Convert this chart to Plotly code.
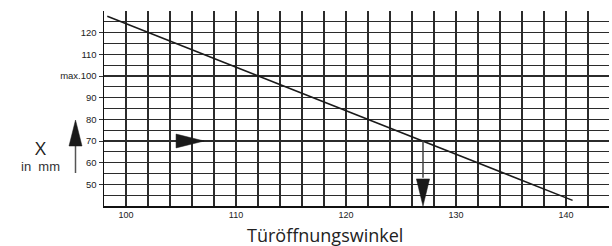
import plotly.graph_objects as go

# ---- data ----
angle = [98.3, 140.6]          # Türöffnungswinkel (°)
x_mm = [127.6, 42.6]           # X in mm
example_angle = 127
example_x = 70

x_tick_vals = [100, 110, 120, 130, 140]
x_tick_text = ["100", "110", "120", "130", "140"]
x_minor_vals = [98, 102, 104, 106, 108, 112, 114, 116, 118, 122, 124, 126, 128,
                132, 134, 136, 138, 142]
y_tick_vals = [50, 60, 70, 80, 90, 100, 110, 120]
y_tick_text = ["50", "60", "70", "80", "90", "max.100", "110", "120"]
y_minor_vals = [45, 55, 65, 75, 85, 95, 105, 115, 125]

W, H = 612, 246
L, R, T, B = 104, 3, 11, 40
PW, PH = W - L - R, H - T - B

def px(xp):
    return (xp - L) / PW

def py(yp):
    return (H - B - yp) / PH

GRID = "#2b2b2b"
INK = "#1a1a1a"

fig = go.Figure()
fig.add_trace(go.Scatter(x=angle, y=x_mm, mode="lines",
                         line=dict(color=INK, width=1.5), showlegend=False,
                         hoverinfo="skip"))

shapes = [
    # down arrow shaft + head
    dict(type="line", xref="x", yref="y", x0=example_angle, x1=example_angle,
         y0=example_x, y1=53, line=dict(color="#444", width=1.5)),
    dict(type="path", xref="x", yref="y",
         path=f"M {example_angle-0.6},52.5 L {example_angle+0.6},52.5 L {example_angle},40 Z",
         fillcolor=INK, line=dict(color=INK, width=0.5)),
    # right arrow head
    dict(type="path", xref="x", yref="y",
         path=f"M 104.55,{example_x+3.2} L 104.55,{example_x-3.2} L 107.1,{example_x} Z",
         fillcolor=INK, line=dict(color=INK, width=0.5)),
    # up arrow (outside plot)
    dict(type="line", xref="paper", yref="paper", x0=px(75.5), x1=px(75.5),
         y0=py(173), y1=py(146), line=dict(color="#555", width=1.5)),
    dict(type="path", xref="paper", yref="paper",
         path=f"M {px(69)},{py(146)} L {px(82)},{py(146)} L {px(75.5)},{py(120)} Z",
         fillcolor=INK, line=dict(color=INK, width=0.5)),
]

annotations = [
    dict(text="X", xref="paper", yref="paper", x=px(40), y=py(148),
         showarrow=False, font=dict(family="Open Sans", size=19, color="#222"),
         xanchor="center", yanchor="middle"),
    dict(text="in\u00a0\u00a0mm", xref="paper", yref="paper", x=px(40), y=py(166),
         showarrow=False, font=dict(family="Liberation Sans", size=13, color="#333"),
         xanchor="center", yanchor="middle"),
    dict(text="Türöffnungswinkel", xref="paper", yref="paper", x=px(325), y=py(235),
         showarrow=False, font=dict(family="Open Sans", size=18, color="#222"),
         xanchor="center", yanchor="middle"),
]

fig.update_layout(
    width=W, height=H,
    margin=dict(l=L, r=R, t=T, b=B, pad=0),
    paper_bgcolor="white", plot_bgcolor="white",
    shapes=shapes, annotations=annotations,
    xaxis=dict(range=[98, 98 + PW / 11], tickvals=x_tick_vals, ticktext=x_tick_text,
               showgrid=True, gridcolor=GRID, gridwidth=1.3,
               minor=dict(tickvals=x_minor_vals, showgrid=True, gridcolor=GRID, gridwidth=1.3),
               showline=True, linecolor="#111", linewidth=1.5, ticks="", zeroline=False,
               tickfont=dict(family="Liberation Sans", size=9, color="#222")),
    yaxis=dict(range=[40, 130], tickvals=y_tick_vals, ticktext=y_tick_text,
               showgrid=True, gridcolor=GRID, gridwidth=1.3,
               minor=dict(tickvals=y_minor_vals, showgrid=True, gridcolor=GRID, gridwidth=1.3),
               showline=True, linecolor="#111", linewidth=1.5, ticks="outside",
               ticklen=4, tickcolor="#333", tickwidth=1, zeroline=False,
               tickfont=dict(family="Liberation Sans", size=9.5, color="#222")),
)

fig.write_html("out.html",
               config={"displayModeBar": False, "staticPlot": True},
               post_script="document.body.style.margin='0';document.body.style.overflow='hidden';")
